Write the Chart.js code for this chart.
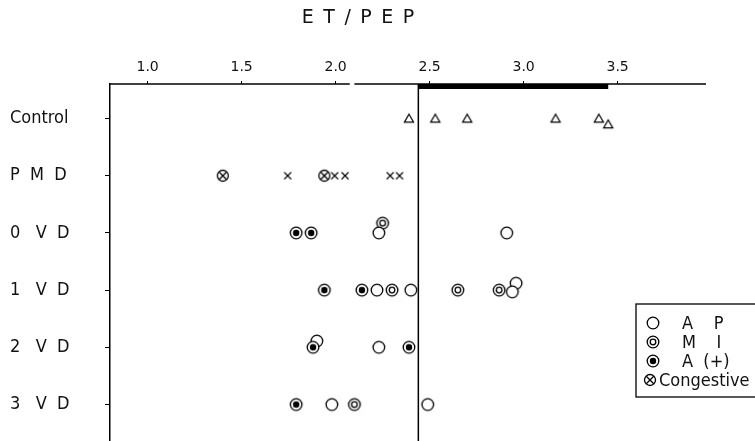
<!DOCTYPE html>
<html>
<head>
<meta charset="utf-8">
<script src="https://cdn.jsdelivr.net/npm/chart.js@4.4.0/dist/chart.umd.min.js"></script>
<style>
  html, body { margin: 0; padding: 0; background: #fff; }
</style>
</head>
<body>
<canvas id="myChart" width="755" height="441"></canvas>
<script>
// rows of the chart, top to bottom
const rowLabels = ['Control', 'P  M  D', '0   V  D', '1   V  D', '2   V  D', '3   V  D'];
const xTicks = [1.0, 1.5, 2.0, 2.5, 3.0, 3.5];

// ET/PEP values; row = row index (fractions where points were nudged to avoid overlap)
const controlX   = [2.39, 2.53, 2.70, 3.17, 3.40, 3.45];
const controlRow = [0, 0, 0, 0, 0, 0.1];

const pmdX   = [1.745, 1.995, 2.05, 2.29, 2.34];
const pmdRow = [1, 1, 1, 1, 1];

const congX   = [1.40, 1.94];
const congRow = [1, 1];

const apX   = [2.23, 2.91, 2.22, 2.40, 2.96, 2.94, 1.90, 2.23, 1.98, 2.49];
const apRow = [2, 2, 3, 3, 2.88, 3.03, 3.89, 4, 5, 5];

const miX   = [2.25, 2.30, 2.65, 2.87, 2.10];
const miRow = [1.83, 3, 3, 3, 5];

const aplusX   = [1.79, 1.87, 1.94, 2.14, 1.88, 2.39, 1.79];
const aplusRow = [2, 2, 3, 3, 4, 4, 5];

// normal limit and normal range bar
const normalLimit = 2.44;
const normalRange = [2.44, 3.45];

const legendItems = [
  { kind: 'ap', text: 'A    P' },
  { kind: 'mi', text: 'M    I' },
  { kind: 'aplus', text: 'A  (+)' },
  { kind: 'cong', text: 'Congestive' }
];

const xMin = 0.8, xMax = 3.97, axisBreak = 2.08;
const yMin = -0.603, yMax = 5.638;

// little canvases used as point styles
function marker(kind) {
  const c = document.createElement('canvas');
  c.width = 16; c.height = 16;
  const g = c.getContext('2d');
  g.strokeStyle = '#000';
  g.fillStyle = '#fff';
  g.lineWidth = 1.3;
  const ring = (r) => { g.beginPath(); g.arc(8, 8, r, 0, Math.PI * 2); g.fill(); g.stroke(); };
  const cross = (d) => {
    g.beginPath();
    g.moveTo(8 - d, 8 - d); g.lineTo(8 + d, 8 + d);
    g.moveTo(8 + d, 8 - d); g.lineTo(8 - d, 8 + d);
    g.stroke();
  };
  if (kind === 'ap') {
    ring(5.8);
  } else if (kind === 'mi') {
    ring(5.8);
    g.beginPath(); g.arc(8, 8, 2.8, 0, Math.PI * 2); g.stroke();
  } else if (kind === 'aplus') {
    ring(5.8);
    g.fillStyle = '#000';
    g.beginPath(); g.arc(8, 8, 3.2, 0, Math.PI * 2); g.fill();
  } else if (kind === 'cong') {
    ring(5.5);
    cross(3.7);
  } else if (kind === 'cross') {
    g.lineWidth = 1.1;
    cross(3.5);
  } else if (kind === 'tri') {
    g.lineWidth = 1.2;
    g.beginPath();
    g.moveTo(8, 3.8); g.lineTo(12.6, 11.6); g.lineTo(3.4, 11.6); g.closePath();
    g.fill(); g.stroke();
  }
  return c;
}

const styles = {};
['ap', 'mi', 'aplus', 'cong', 'cross', 'tri'].forEach(k => styles[k] = marker(k));

function points(xs, rows) {
  return xs.map((x, i) => ({ x: x, y: rows[i] }));
}

function pointSet(label, xs, rows, kind) {
  return {
    label: label,
    data: points(xs, rows),
    pointStyle: styles[kind],
    pointRadius: 6,
    clip: false
  };
}

function lineSet(data, width) {
  return {
    data: data,
    showLine: true,
    borderColor: '#000',
    borderWidth: width,
    borderCapStyle: 'butt',
    pointRadius: 0,
    clip: false
  };
}

// legend box drawn inside the plot, lower right
const boxLegend = {
  id: 'boxLegend',
  afterDraw(chart) {
    const { ctx, chartArea } = chart;
    const left = chartArea.right - 70;
    const top = chartArea.top + 220;
    ctx.save();
    ctx.fillStyle = '#fff';
    ctx.strokeStyle = '#000';
    ctx.lineWidth = 1.3;
    ctx.fillRect(left, top, 140, 93);
    ctx.strokeRect(left, top, 140, 93);
    ctx.font = "18px 'DejaVu Sans Condensed', 'DejaVu Sans', sans-serif";
    ctx.fillStyle = '#111';
    ctx.textBaseline = 'middle';
    legendItems.forEach((item, i) => {
      const y = top + 19 + i * 19;
      const img = styles[item.kind];
      const mx = item.kind === 'cong' ? left + 14 : left + 17;
      ctx.drawImage(img, mx - 8, y - 8);
      ctx.fillText(item.text, item.kind === 'cong' ? left + 23 : left + 46, y + 1);
    });
    ctx.restore();
  }
};

const ctx = document.getElementById('myChart').getContext('2d');
const myChart = new Chart(ctx, {
  type: 'scatter',
  data: {
    datasets: [
      pointSet('Congestive', congX, congRow, 'cong'),
      pointSet('P M D', pmdX, pmdRow, 'cross'),
      pointSet('Control', controlX, controlRow, 'tri'),
      pointSet('A (+)', aplusX, aplusRow, 'aplus'),
      pointSet('A P', apX, apRow, 'ap'),
      pointSet('M I', miX, miRow, 'mi'),
      lineSet([{ x: normalLimit, y: yMin }, { x: normalLimit, y: yMax }], 1.5),
      lineSet([{ x: normalRange[0], y: yMin + 0.044 }, { x: normalRange[1], y: yMin + 0.044 }], 5),
      lineSet([{ x: xMin, y: yMin }, { x: axisBreak - 0.005, y: yMin }], 1.5),
      lineSet([{ x: axisBreak + 0.02, y: yMin }, { x: xMax, y: yMin }], 1.5)
    ]
  },
  options: {
    responsive: false,
    animation: false,
    events: [],
    layout: { autoPadding: false, padding: { left: 10, right: 49, top: 0, bottom: 0 } },
    plugins: {
      legend: { display: false },
      tooltip: { enabled: false },
      title: {
        display: true,
        text: 'E\u2002T\u2002/\u2002P\u2002E\u2002P',
        color: '#111',
        font: { family: "'DejaVu Sans', sans-serif", size: 19, weight: 'normal' },
        padding: { top: 7, bottom: 24.4 }
      }
    },
    scales: {
      x: {
        type: 'linear',
        position: 'top',
        min: xMin,
        max: xMax,
        afterBuildTicks: s => { s.ticks = xTicks.map(v => ({ value: v })); },
        ticks: {
          callback: v => v.toFixed(1),
          color: '#111',
          font: { family: "'DejaVu Sans', sans-serif", size: 14 },
          padding: 5,
          maxRotation: 0
        },
        grid: { drawOnChartArea: false, tickLength: 3, color: '#000' },
        border: { display: false }
      },
      y: {
        type: 'linear',
        reverse: true,
        min: yMin,
        max: yMax,
        afterBuildTicks: s => { s.ticks = rowLabels.map((_, i) => ({ value: i })); },
        afterFit: s => { s.width = 100; s.paddingTop = 0; s.paddingBottom = 0; },
        ticks: {
          callback: (v, i) => rowLabels[i],
          crossAlign: 'far',
          color: '#111',
          font: { family: "'DejaVu Sans Condensed', 'DejaVu Sans', sans-serif", size: 18 }
        },
        grid: { drawOnChartArea: false, tickLength: 5, color: '#000' },
        border: { display: true, color: '#000', width: 1.5 }
      }
    }
  },
  plugins: [boxLegend]
});
</script>
</body>
</html>
